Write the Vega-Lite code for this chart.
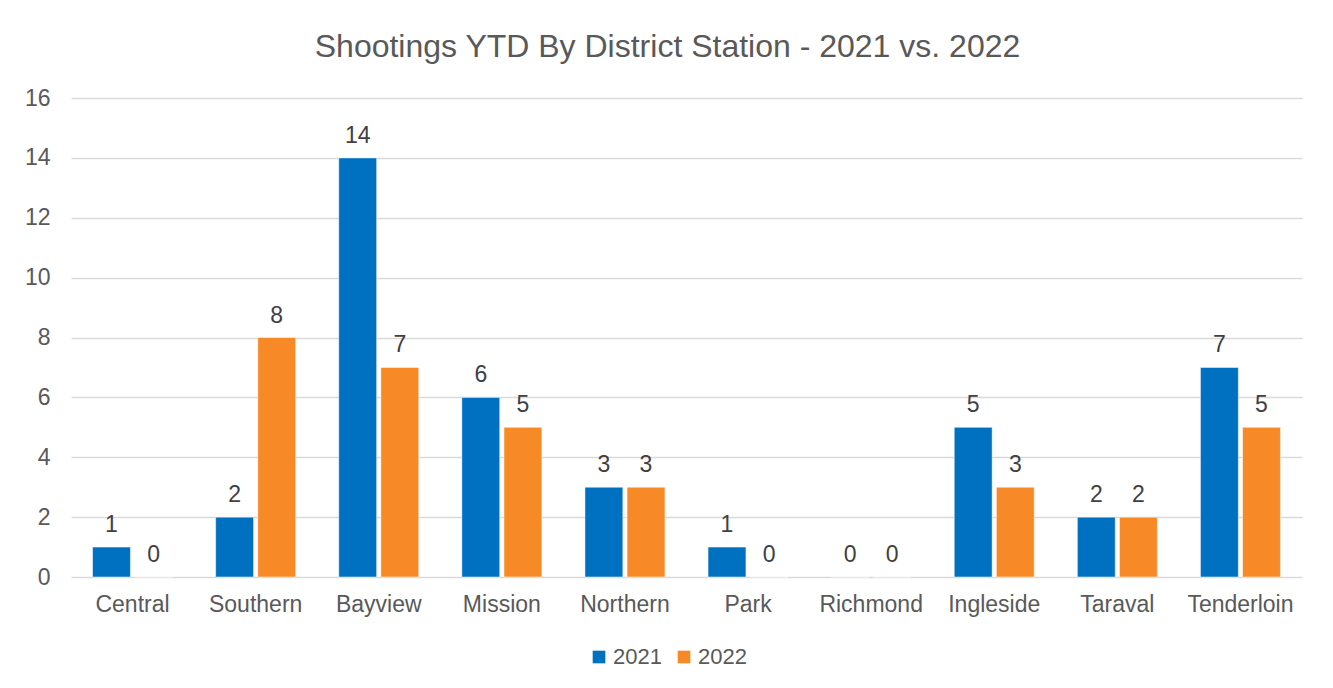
{
  "$schema": "https://vega.github.io/schema/vega-lite/v6.json",
  "autosize": {"type": "none"},
  "padding": {"left": 71, "top": 98, "right": 31, "bottom": 111},
  "width": 1231,
  "height": 479,
  "background": "white",
  "config": {"view": {"stroke": null}},
  "title": {
    "text": "Shootings YTD By District Station - 2021 vs. 2022",
    "font": "Liberation Sans",
    "fontSize": 32,
    "fontWeight": "normal",
    "color": "#595959",
    "anchor": "middle",
    "dx": -19,
    "offset": 23
  },
  "data": {
    "values": [
      {"station": "Central", "year": "2021", "shootings": 1},
      {"station": "Central", "year": "2022", "shootings": 0},
      {"station": "Southern", "year": "2021", "shootings": 2},
      {"station": "Southern", "year": "2022", "shootings": 8},
      {"station": "Bayview", "year": "2021", "shootings": 14},
      {"station": "Bayview", "year": "2022", "shootings": 7},
      {"station": "Mission", "year": "2021", "shootings": 6},
      {"station": "Mission", "year": "2022", "shootings": 5},
      {"station": "Northern", "year": "2021", "shootings": 3},
      {"station": "Northern", "year": "2022", "shootings": 3},
      {"station": "Park", "year": "2021", "shootings": 1},
      {"station": "Park", "year": "2022", "shootings": 0},
      {"station": "Richmond", "year": "2021", "shootings": 0},
      {"station": "Richmond", "year": "2022", "shootings": 0},
      {"station": "Ingleside", "year": "2021", "shootings": 5},
      {"station": "Ingleside", "year": "2022", "shootings": 3},
      {"station": "Taraval", "year": "2021", "shootings": 2},
      {"station": "Taraval", "year": "2022", "shootings": 2},
      {"station": "Tenderloin", "year": "2021", "shootings": 7},
      {"station": "Tenderloin", "year": "2022", "shootings": 5}
    ]
  },
  "encoding": {
    "x": {
      "field": "station",
      "type": "nominal",
      "sort": null,
      "scale": {"paddingInner": 0.35, "paddingOuter": 0.175},
      "axis": {
        "title": null,
        "labelAngle": 0,
        "labelFont": "Liberation Sans",
        "labelFontSize": 23,
        "labelColor": "#595959",
        "labelPadding": 16,
        "domain": false,
        "ticks": false
      }
    },
    "xOffset": {
      "field": "year",
      "type": "nominal",
      "scale": {"paddingInner": 0.1, "paddingOuter": 0}
    },
    "y": {
      "field": "shootings",
      "type": "quantitative",
      "scale": {"domain": [0, 16], "nice": false},
      "axis": {
        "title": null,
        "values": [0, 2, 4, 6, 8, 10, 12, 14, 16],
        "labelFont": "Liberation Sans",
        "labelFontSize": 23,
        "labelColor": "#595959",
        "labelPadding": 21,
        "domain": false,
        "ticks": false,
        "grid": true,
        "gridColor": "#D9D9D9",
        "gridWidth": 1.5
      }
    }
  },
  "layer": [
    {
      "mark": {"type": "bar", "stroke": "white", "strokeWidth": 0.5},
      "encoding": {
        "color": {
          "field": "year",
          "type": "nominal",
          "scale": {"domain": ["2021", "2022"], "range": ["#0070C0", "#F78A26"]},
          "legend": {
            "title": null,
            "orient": "none",
            "legendX": 517,
            "legendY": 548,
            "direction": "horizontal",
            "symbolType": "square",
            "symbolSize": 160,
            "symbolStrokeWidth": 0,
            "labelFont": "Liberation Sans",
            "labelFontSize": 22,
            "labelColor": "#595959",
            "labelOffset": 3,
            "columnPadding": 11
          }
        }
      }
    },
    {
      "mark": {
        "type": "text",
        "font": "Liberation Sans",
        "fontSize": 23,
        "color": "#404040",
        "baseline": "alphabetic",
        "dy": -15
      },
      "encoding": {
        "text": {"field": "shootings", "type": "quantitative"}
      }
    }
  ]
}
